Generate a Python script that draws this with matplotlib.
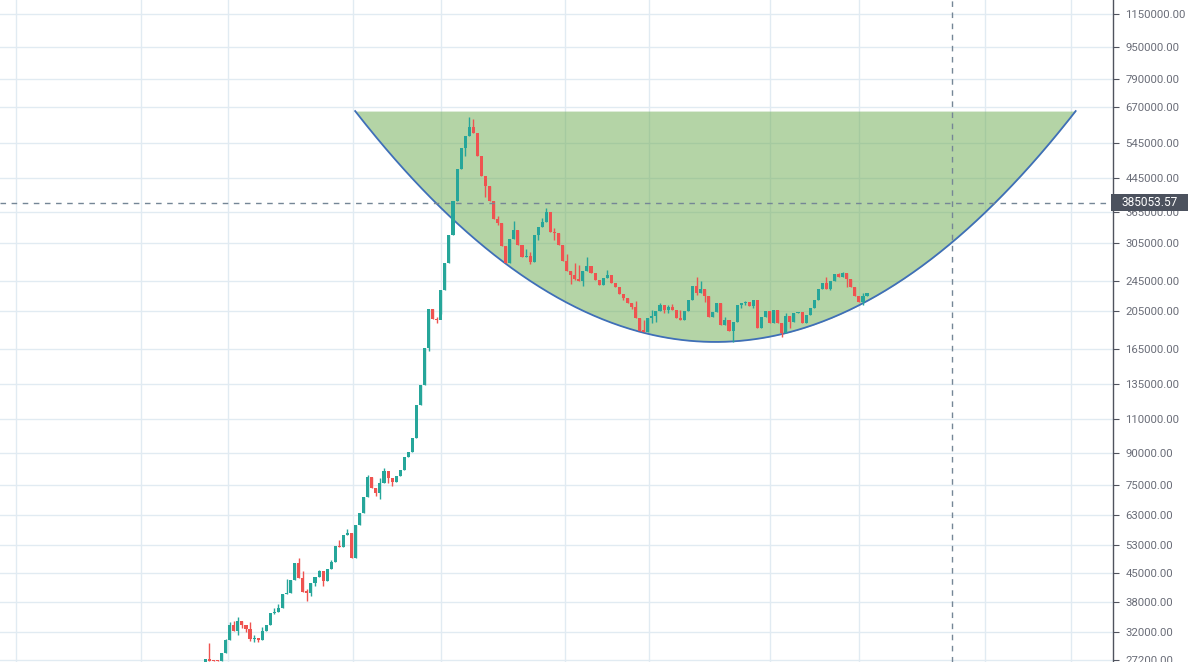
import numpy as np
import matplotlib
matplotlib.use("Agg")
import matplotlib.pyplot as plt
from matplotlib.patches import Rectangle
from matplotlib.ticker import FixedLocator, NullLocator, FuncFormatter

# ---- data ----
first_open = 26300
closes = [
    27400, 27100, 27050, 27000, 28300, 30500, 33300, 32100, 34100, 33300,
    32600, 30700, 30900, 30500, 32200, 33300, 35700, 35900, 36700, 39900,
    40200, 43200, 47700, 43700, 40300, 40200, 42500, 44000, 45500, 43000,
    46100, 47900, 52600, 52300, 56100, 56800, 49100, 59500, 63800, 69900,
    78600, 73700, 71500, 75900, 81300, 78100, 76300, 79100, 81800, 88200,
    90700, 98400, 119200, 133900, 165900, 208000, 196200, 195500, 232200, 271500,
    319400, 388900, 468200, 528800, 566900, 597300, 576900, 504900, 449600, 424300,
    388900, 350400, 342400, 299600, 271500, 312100, 328800, 301300, 281200, 282800,
    273100, 319400, 334600, 344400, 364900, 325000, 323100, 301300, 274700, 259200,
    253300, 247400, 244600, 259200, 266900, 256200, 246000, 239000, 248900, 253300,
    241800, 236200, 226900, 221700, 215300, 210400, 197400, 183000, 182500, 197400,
    199700, 205600, 212900, 206800, 210400, 206800, 197400, 195100, 205600, 219100,
    237600, 228200, 233500, 224300, 198500, 204400, 215300, 189500, 195100, 183000,
    192900, 212900, 215300, 216600, 211600, 219100, 186200, 198500, 205600, 191800,
    206800, 191800, 180900, 199700, 192900, 203200, 204400, 191800, 200900, 209200,
    219100, 233500, 241800, 233500, 244600, 254700, 250400, 256200, 247400, 236200,
    224300, 216600, 224300, 228200,
]
# wick extremes where a wick shows beyond the body (candle index -> price)
wick_high = {
    1: 30000, 5: 30700, 6: 33900, 7: 34100, 8: 34900, 11: 33900, 12: 31500,
    14: 32900, 17: 36700, 18: 37600, 20: 43500, 23: 49200, 24: 45500, 25: 41000,
    28: 45800, 31: 48500, 33: 54500, 35: 58100, 40: 79500, 43: 78100, 44: 82800,
    57: 198500, 65: 632900, 66: 625600, 72: 356600, 76: 346400, 79: 294400,
    80: 289400, 83: 352500, 84: 373500, 86: 332600, 89: 286100, 91: 271500,
    92: 268400, 94: 281200, 99: 260700, 106: 217800, 108: 195100, 110: 206800,
    112: 215300, 114: 212800, 115: 214000, 117: 206800, 121: 250300, 122: 244600,
    128: 198500, 133: 217800, 143: 203200, 153: 250300, 156: 256200, 157: 257700,
    162: 228200,
}
wick_low = {
    8: 31500, 9: 32800, 10: 32000, 11: 30400, 12: 30200, 13: 30200, 17: 35500,
    20: 39900, 25: 38300, 26: 39400, 27: 41700, 29: 41700, 42: 70300, 43: 69100,
    45: 75900, 46: 74600, 55: 163100, 57: 191700, 58: 202100, 64: 505000,
    69: 398000, 72: 338400, 80: 270000, 82: 310200, 86: 310200, 90: 240400,
    91: 246000, 93: 237600, 103: 219100, 105: 208000, 108: 182000, 110: 191700,
    111: 193000, 113: 203200, 114: 203200, 121: 225600, 123: 216600, 130: 171800,
    132: 209200, 133: 212800, 135: 209200, 142: 176800, 144: 186300, 154: 232200,
    158: 236200, 162: 212800,
}
price_ticks = [27200, 32000, 38000, 45000, 53000, 63000, 75000, 90000, 110000,
               135000, 165000, 205000, 245000, 305000, 365000, 445000, 545000,
               670000, 790000, 950000, 1150000]
grid_x = [-46.6, -15.8, 5.6, 36.4, 58.0, 88.6, 109.3, 139.1, 161.0, 192.1, 213.2]

cup_left, cup_right = 36.9, 214.4
cup_top, cup_bottom = 655000, 171800
cross_x = 183.9
cross_price = 385053.57

C_UP = "#26a69a"; C_DN = "#ef5350"
C_GRID = "#e1ebf2"; C_TXT = "#6a6d78"; C_AX = "#50535e"

opens = [first_open] + closes[:-1]
n = len(closes)

W, H = 1188, 662
fig = plt.figure(figsize=(W / 100, H / 100), dpi=100)
ax = fig.add_axes([0, 0, 1113 / W, 1])
ax.set_yscale("log")
ax.set_xlim(-50.6, 223.6)
ax.set_ylim(26870, 1247000)

# grid
ax.set_axisbelow(True)
ax.xaxis.set_major_locator(FixedLocator(grid_x))
ax.yaxis.set_major_locator(FixedLocator(price_ticks))
ax.yaxis.set_minor_locator(NullLocator())
ax.yaxis.set_major_formatter(FuncFormatter(lambda v, _: f"{v:.2f}"))
ax.grid(True, color=C_GRID, lw=1)
ax.tick_params(axis="x", length=0, labelbottom=False)
ax.yaxis.tick_right()
ax.tick_params(axis="y", length=4, width=0.8, color=C_AX, colors=C_TXT,
               labelsize=8.2, pad=5)
for lab in ax.get_yticklabels():
    lab.set_family("Roboto")
for s in ["left", "top", "bottom"]:
    ax.spines[s].set_visible(False)
ax.spines["right"].set_color(C_AX); ax.spines["right"].set_linewidth(1)

# cup (parabola in log-price)
t = np.linspace(cup_left, cup_right, 400)
mid = (cup_left + cup_right) / 2; half = (cup_right - cup_left) / 2
lp = np.log(cup_bottom) + (np.log(cup_top) - np.log(cup_bottom)) * ((t - mid) / half) ** 2
curve = np.exp(lp)
ax.fill_between(t, curve, cup_top, color="#6aaa4f", alpha=0.5, lw=0, zorder=1)
ax.plot(t, curve, color="#3f6fb8", lw=1.3, zorder=1.5)

# candles
for i in range(n):
    o, c = opens[i], closes[i]
    col = C_UP if c >= o else C_DN
    lo, hi = min(o, c), max(o, c)
    if hi / lo < 1.006:
        hi = lo * 1.006
    wh = wick_high.get(i, hi); wl = wick_low.get(i, lo)
    ax.vlines(i, wl, wh, color=col, lw=1, zorder=2)
    ax.bar(i, hi - lo, bottom=lo, width=0.76, color=col, lw=0, zorder=2.1)

# crosshair
ax.axvline(cross_x, color="#758696", lw=1, ls=(0, (4, 4)), zorder=3)
ax.axhline(cross_price, color="#758696", lw=1, ls=(0, (4, 4)), zorder=3)

# price label on the scale
y_pix = ax.transData.transform((0, cross_price))[1]
fig.patches.append(Rectangle((1111 / W, (y_pix - 8.5) / H), 77 / W, 17 / H,
                             transform=fig.transFigure, fc="#4c525e", ec="none",
                             zorder=10))
fig.text(1121 / W, y_pix / H, f"{cross_price:.2f}", ha="left", va="center",
         color="white", fontsize=8.6, family="Roboto", zorder=11)

fig.savefig("out.png", dpi=100)
